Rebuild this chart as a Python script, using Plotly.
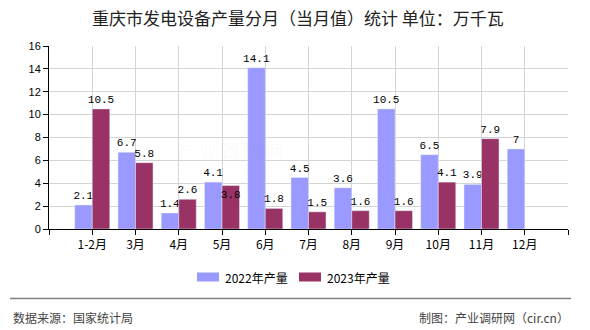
import plotly.graph_objects as go

# ---- data ----
categories = ['1-2月', '3月', '4月', '5月', '6月', '7月', '8月', '9月', '10月', '11月', '12月']
values_2022 = [2.1, 6.7, 1.4, 4.1, 14.1, 4.5, 3.6, 10.5, 6.5, 3.9, 7]
values_2023 = [10.5, 5.8, 2.6, 3.8, 1.8, 1.5, 1.6, 1.6, 4.1, 7.9, None]
series_names = ['2022年产量', '2023年产量']
title_text = '重庆市发电设备产量分月（当月值）统计 单位：万千瓦'
source_text = '数据来源：国家统计局'
credit_text = '制图：产业调研网（cir.cn）'
watermark_text = '产 业 调 研 网'

# ---- layout geometry (pixels) ----
W, H = 590, 330
L, R, T, B = 49, 568, 46, 229


def px(x):
    return (x - L) / (R - L)


def py(y):
    return (B - y) / (B - T)


C2022 = '#9999FF'
C2023 = '#993366'
CN = 'Noto Sans CJK SC'
NUMFONT = 'Liberation Mono, DejaVu Sans Mono, monospace'

xs = list(range(len(categories)))


def lbl(v):
    return '' if v is None else f'{v:g}'


pos2023 = ['inside' if v == 3.8 else 'outside' for v in values_2023]

fig = go.Figure()
fig.add_trace(go.Bar(
    x=xs, y=values_2022, name=series_names[0], marker_color=C2022,
    text=[lbl(v) for v in values_2022], textposition='outside',
    textfont=dict(family=NUMFONT, size=11, color='black'),
    cliponaxis=False, constraintext='none', textangle=0,
))
fig.add_trace(go.Bar(
    x=xs, y=values_2023, name=series_names[1], marker_color=C2023,
    text=[lbl(v) for v in values_2023], textposition=pos2023,
    insidetextanchor='end',
    textfont=dict(family=NUMFONT, size=11, color='black'),
    insidetextfont=dict(family=NUMFONT, size=11, color='black'),
    cliponaxis=False, constraintext='none', textangle=0,
))

shapes = []
annotations = []

# watermark
annotations.append(dict(
    x=px(230), y=py(150), xref='paper', yref='paper', text=watermark_text,
    showarrow=False, font=dict(family=CN, size=18, color='rgba(190,90,90,0.05)'),
    xanchor='center', yanchor='middle'))

# custom legend
for (x0, x1, tx, col, name) in [(197, 219, 223, C2022, series_names[0]),
                                (299, 321, 325, C2023, series_names[1])]:
    shapes.append(dict(type='rect', xref='paper', yref='paper',
                       x0=px(x0), x1=px(x1), y0=py(281.5), y1=py(272.5),
                       fillcolor=col, line=dict(width=0)))
    annotations.append(dict(x=px(tx), y=py(277), xref='paper', yref='paper',
                            text=name, showarrow=False, xanchor='left', yanchor='middle',
                            font=dict(family=CN, size=12, color='black')))

# footer
shapes.append(dict(type='line', xref='paper', yref='paper',
                   x0=px(10), x1=px(571), y0=py(298.5), y1=py(298.5),
                   line=dict(color='#808080', width=1.5)))
annotations.append(dict(x=px(11), y=py(317), xref='paper', yref='paper',
                        text=source_text, showarrow=False, xanchor='left', yanchor='middle',
                        font=dict(family=CN, size=12, color='#444444')))
annotations.append(dict(x=px(571), y=py(317), xref='paper', yref='paper',
                        text=credit_text, showarrow=False, xanchor='right', yanchor='middle',
                        font=dict(family=CN, size=12, color='#444444')))

fig.update_layout(
    width=W, height=H,
    margin=dict(l=L, r=W - R, t=T, b=H - B, pad=0),
    paper_bgcolor='white', plot_bgcolor='white',
    barmode='group', bargap=0.19, bargroupgap=0,
    showlegend=False,
    title=dict(text=title_text, x=0.505, xanchor='center', y=1 - 19 / H, yanchor='middle',
               font=dict(family=CN, size=17, color='#222222')),
    xaxis=dict(
        range=[-1, len(categories)],
        tickmode='array',
        tickvals=list(range(-1, len(categories) + 1)),
        ticktext=[''] + categories + [''],
        showgrid=True, gridcolor='#d4d4d4', gridwidth=1,
        showline=True, linecolor='black', linewidth=1,
        ticks='outside', ticklen=5, tickcolor='black',
        zeroline=False,
        tickfont=dict(family=CN, size=12, color='black'),
        fixedrange=True,
    ),
    yaxis=dict(
        range=[0, 16], dtick=2, tick0=0,
        showgrid=True, gridcolor='#d4d4d4', gridwidth=1,
        showline=True, linecolor='black', linewidth=1,
        ticks='outside', ticklen=5, tickcolor='black',
        zeroline=False,
        tickfont=dict(family='Liberation Sans, Arial, sans-serif', size=11, color='black'),
        fixedrange=True,
    ),
    shapes=shapes,
    annotations=annotations,
)

fig.write_html('out.html', config={'displayModeBar': False})
